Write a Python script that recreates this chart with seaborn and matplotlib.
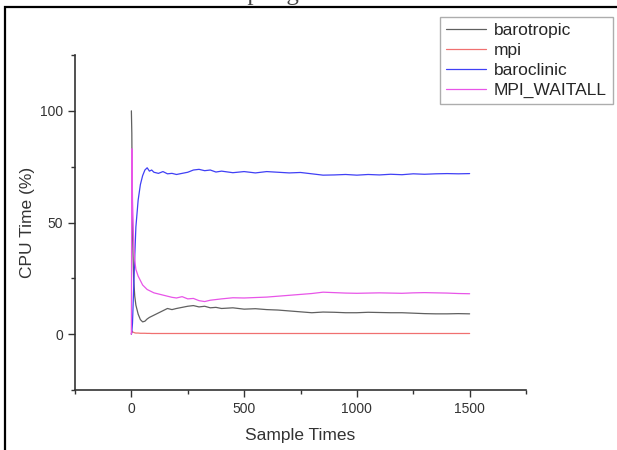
import numpy as np
import pandas as pd
import matplotlib
matplotlib.use("Agg")
import matplotlib.pyplot as plt
import seaborn as sns
from matplotlib.lines import Line2D
from matplotlib.patches import Rectangle

# sample positions
sample_times = [0, 2, 5, 10, 15, 20, 30, 40, 50, 60, 70, 80, 90, 100, 120, 140, 160, 180,
                200, 225, 250, 275, 300, 325, 350, 375, 400, 450, 500, 550, 600, 650, 700,
                750, 800, 850, 900, 950, 1000, 1050, 1100, 1150, 1200, 1250, 1300, 1350,
                1400, 1450, 1500]

barotropic = [100, 90, 45, 25, 17, 13, 9, 6.5, 5.5, 5.8, 6.8, 7.5, 8, 8.5, 9.5, 10.5, 11.5, 11,
              11.5, 12, 12.5, 12.8, 12.2, 12.5, 11.8, 12, 11.5, 11.8, 11.2, 11.4, 11, 10.8, 10.4,
              10, 9.6, 9.9, 9.8, 9.6, 9.6, 9.8, 9.7, 9.6, 9.6, 9.4, 9.2, 9.1, 9.1, 9.2, 9.1]

mpi = [0, 1.5, 1.0, 0.8, 0.6, 0.5, 0.5, 0.4, 0.4, 0.4, 0.35, 0.35, 0.3, 0.3, 0.3, 0.3, 0.3, 0.3,
       0.3, 0.3, 0.3, 0.3, 0.3, 0.3, 0.3, 0.3, 0.3, 0.3, 0.3, 0.3, 0.3, 0.3, 0.3,
       0.3, 0.3, 0.3, 0.3, 0.3, 0.3, 0.3, 0.3, 0.3, 0.3, 0.3, 0.3, 0.3, 0.3, 0.3, 0.3]

baroclinic = [0, 1, 5, 20, 35, 48, 60, 67, 71, 73.5, 74.5, 73, 73.5, 72.5, 72, 72.8, 71.8, 72,
              71.5, 72, 72.5, 73.5, 73.8, 73.2, 73.5, 72.6, 73, 72.3, 72.8, 72.2, 72.8, 72.5, 72.2,
              72.4, 71.8, 71.2, 71.3, 71.5, 71.2, 71.5, 71.3, 71.6, 71.4, 71.8, 71.6, 71.8,
              71.9, 71.8, 71.9]

mpi_waitall = [0, 83, 60, 42, 33, 29, 26, 24, 22, 21, 20, 19.5, 19, 18.5, 18, 17.5, 17, 16.5,
               16.2, 16.8, 15.8, 16, 15, 14.6, 15.2, 15.5, 15.8, 16.3, 16.2, 16.4, 16.6, 17, 17.4,
               17.8, 18.2, 18.8, 18.6, 18.4, 18.3, 18.4, 18.5, 18.4, 18.3, 18.5, 18.6, 18.5,
               18.4, 18.2, 18.1]

series_names = ["barotropic", "mpi", "baroclinic", "MPI_WAITALL"]
series_values = [barotropic, mpi, baroclinic, mpi_waitall]
colors = ["#606060", "#f07070", "#4040f5", "#e855e8"]

frames = []
for name, vals in zip(series_names, series_values):
    frames.append(pd.DataFrame({"Sample Times": sample_times, "CPU": vals, "series": name}))
df = pd.concat(frames, ignore_index=True)

sns.set_style("ticks")
plt.rcParams["font.family"] = ["Liberation Sans", "DejaVu Sans"]

fig = plt.figure(figsize=(6.17, 4.5), dpi=100)
ax = fig.add_axes([75 / 617, 1 - 390 / 450, 451 / 617, 335 / 450])

sns.lineplot(data=df, x="Sample Times", y="CPU", hue="series", hue_order=series_names,
             palette=colors, linewidth=0.9, legend=False, ax=ax, estimator=None)

ax.set_xlim(-250, 1750)
ax.set_ylim(-25, 125)
ax.set_xticks([0, 500, 1000, 1500])
ax.set_xticks([-250, 250, 750, 1250, 1750], minor=True)
ax.set_yticks([0, 50, 100])
ax.set_yticks([-25, 25, 75, 125], minor=True)
ax.tick_params(which="major", length=5, width=1, colors="#333333", labelsize=10)
ax.tick_params(which="minor", length=3, width=1, colors="#333333")
for s in ["left", "bottom"]:
    ax.spines[s].set_color("#333333")
    ax.spines[s].set_linewidth(1.2)
sns.despine(ax=ax)
ax.set_xlabel("Sample Times", fontsize=12.5, color="#333333", labelpad=9)
ax.set_ylabel("CPU Time (%)", fontsize=12.5, color="#333333", labelpad=4)

handles = [Line2D([], [], color=c, lw=0.9) for c in colors]
fig.legend(handles, series_names, loc="upper right", bbox_to_anchor=(613 / 617, 1 - 16.5 / 450),
           fontsize=12.5, frameon=True, fancybox=False, edgecolor="#999999",
           handlelength=2.3, handletextpad=0.45, labelspacing=0.28, borderpad=0.35,
           borderaxespad=0)

# page border and clipped caption above the figure
fig.patches.append(Rectangle((4.5 / 617, -0.1), 1.2, 1.1 - 6.5 / 450, transform=fig.transFigure,
                             fill=False, edgecolor="black", linewidth=1.6))
fig.text(0.51, 1.0, "Overhead for the sampling method for the iteration 1500",
         ha="center", va="baseline", fontsize=18, family="Liberation Serif", color="#444444")

fig.savefig("out.png", dpi=100)
